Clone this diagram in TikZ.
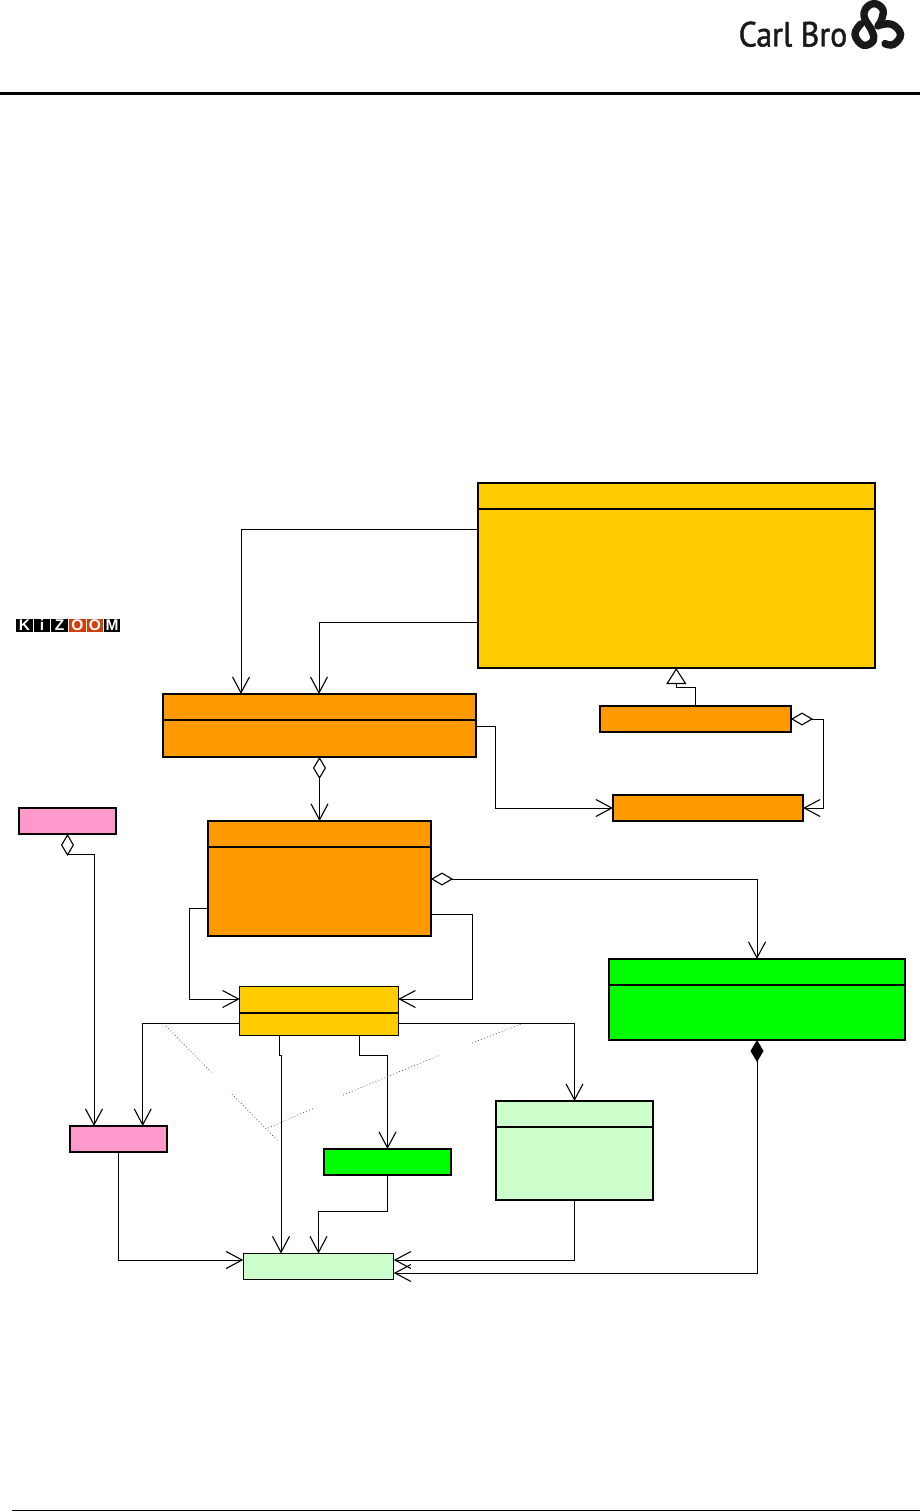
\documentclass[tikz,border=0pt]{standalone}
\usepackage{fontspec}
\setmainfont{Liberation Sans}
\newfontfamily\logofont[FakeStretch=0.91,FakeBold=1.3]{PT Sans}
\usetikzlibrary{arrows.meta,calc}
\definecolor{cbOrange}{HTML}{FF9900}
\definecolor{cbYellow}{HTML}{FFCC00}
\definecolor{cbPink}{HTML}{FF99CC}
\definecolor{cbGreen}{HTML}{00FF00}
\definecolor{cbPale}{HTML}{CCFFCC}
\definecolor{kzRed}{HTML}{D0400F}
\tikzset{
  umlbox/.style={draw=black,line width=1.1pt,rectangle,inner sep=0pt,outer sep=0pt},
  divider/.style={draw=black,line width=1.1pt},
  assoc/.style={draw=black,line width=1pt,-{Straight Barb[length=16pt,width=17pt,line width=1.1pt]}},
  aggr/.style={draw=black,line width=1pt,{Diamond[open,fill=white,length=22pt,width=13pt,line width=1.1pt]}-{Straight Barb[length=16pt,width=17pt,line width=1.1pt]}},
  comp/.style={draw=black,line width=1pt,{Diamond[length=22pt,width=13pt]}-{Straight Barb[length=16pt,width=17pt,line width=1.1pt]}},
  inherit/.style={draw=black,line width=1pt,{Triangle[open,fill=white,length=16pt,width=20pt,line width=1.1pt]}-},
  note/.style={draw=black!70,line width=.7pt,dash pattern=on .8pt off 2.4pt},
  kzcell/.style={rectangle,minimum width=16.5pt,minimum height=13pt,inner sep=0pt,outer sep=0pt,text=white,font=\fontsize{15.5}{15.5}\bfseries\selectfont},
}
\begin{document}
\begin{tikzpicture}[x=1pt,y=-1pt]
\useasboundingbox (0,0) rectangle (920,1512);
% page furniture
\coordinate (ruleL) at (0,93.5);
\coordinate (ruleR) at (920,93.5);
\coordinate (footL) at (12,1510.5);
\coordinate (footR) at (920,1510.5);
\draw[line width=3pt] (ruleL) -- (ruleR);
\draw[line width=1.6pt] (footL) -- (footR);
% Carl Bro logo
\node[anchor=base west,inner sep=0pt,font=\logofont\fontsize{35}{35}\selectfont,text=black!90] (carlbro) at (738.5,46.5) {Carl Bro};
\begin{scope}[shift={(844.4,-1)},x=0.39pt,y=-0.385pt]
\draw[line width=7.4pt,line cap=round,line join=round,black!90] plot[smooth,tension=0.7] coordinates {(42,65) (27,92) (48,120) (74,108) (70,82) (52,50) (54,26) (76,12) (98,26) (96,52) (86,70)};
\draw[line width=7.4pt,line cap=round,black!90] plot[smooth,tension=0.7] coordinates {(90,68) (122,66) (144,92) (126,118) (104,116)};
\end{scope}
% KiZOOM logo
\node[kzcell,fill=black] (kz1) at (24.5,625) {K};
\node[kzcell,fill=black] (kz2) at (42,625) {i};
\node[kzcell,fill=black] (kz3) at (59.5,625) {Z};
\node[kzcell,fill=kzRed] (kz4) at (77.5,625) {O};
\node[kzcell,fill=kzRed] (kz5) at (95,625) {O};
\node[kzcell,fill=black] (kz6) at (112,625) {M};
% boxes
\node[umlbox,fill=cbYellow,minimum width=397pt,minimum height=185pt] (top) at (676.5,575.5) {};
\node[umlbox,fill=cbOrange,minimum width=313pt,minimum height=63pt] (mgr) at (319.5,725.5) {};
\node[umlbox,fill=cbOrange,minimum width=191pt,minimum height=26pt] (impl) at (695.5,719) {};
\node[umlbox,fill=cbOrange,minimum width=190pt,minimum height=26pt] (conn) at (708,808) {};
\node[umlbox,fill=cbOrange,minimum width=223pt,minimum height=115pt] (sess) at (319.5,878.5) {};
\node[umlbox,fill=cbPink,minimum width=97pt,minimum height=26pt] (pinka) at (67.5,821) {};
\node[umlbox,fill=cbPink,minimum width=97pt,minimum height=26pt] (pinkb) at (118.5,1139) {};
\node[umlbox,fill=cbYellow,minimum width=158.5pt,minimum height=49pt] (core) at (319,1011) {};
\node[umlbox,fill=cbGreen,minimum width=296pt,minimum height=81pt] (grn) at (757,999.5) {};
\node[umlbox,fill=cbGreen,minimum width=127pt,minimum height=26pt] (grs) at (387.5,1162) {};
\node[umlbox,fill=cbPale,minimum width=157pt,minimum height=99pt] (pal) at (574.5,1150.5) {};
\node[umlbox,fill=cbPale,minimum width=150.5pt,minimum height=26pt] (base) at (318.5,1266.5) {};
% compartment dividers
\draw[divider] (top.west |- 0,509) -- (top.east |- 0,509);
\draw[divider] (mgr.west |- 0,720) -- (mgr.east |- 0,720);
\draw[divider] (sess.west |- 0,847) -- (sess.east |- 0,847);
\draw[divider] (core.west |- 0,1013) -- (core.east |- 0,1013);
\draw[divider] (grn.west |- 0,985) -- (grn.east |- 0,985);
\draw[divider] (pal.west |- 0,1127) -- (pal.east |- 0,1127);
% connectors
\draw[assoc] (top.west |- 0,529) -| (mgr.north -| 241,0);
\draw[assoc] (top.west |- 0,622) -| (mgr.north -| 319,0);
\draw[inherit] (top.south -| 676.3,0) -- (676.3,687.3) -| (impl.north);
\draw[assoc] (mgr.east |- 0,726) -- (495.5,726) |- (conn.west);
\draw[aggr] (impl.east) -- (823,719) |- (conn.east);
\draw[aggr] (mgr.south) -- (sess.north);
\draw[aggr] (sess.east |- 0,879) -| (grn.north);
\draw[assoc] (sess.west |- 0,908) -- (189,908) |- (core.west |- 0,999);
\draw[assoc] (sess.east |- 0,914) -- (472,914) |- (core.east |- 0,999);
\draw[aggr] (pinka.south) |- (94,854) -- (pinkb.north -| 94,0);
\draw[assoc] (core.west |- 0,1023.5) -| (pinkb.north -| 142.7,0);
\draw[assoc] (core.east |- 0,1023.5) -| (pal.north -| 574.5,0);
\draw[assoc] (core.south -| 279.3,0) -- (279.3,1055) -- (281,1055) -- (base.north -| 281,0);
\draw[assoc] (core.south -| 359,0) -- (359,1055) -| (grs.north);
\draw[assoc] (grs.south) -- (387.5,1211.5) -| (base.north);
\draw[assoc] (pinkb.south) |- (base.west |- 0,1260);
\draw[assoc] (pal.south) |- (base.east |- 0,1260);
\draw[comp] (grn.south) |- (base.east |- 0,1273);
% note lines
\coordinate (na) at (166,1026); \coordinate (nb) at (212,1073);
\coordinate (nc) at (232,1094); \coordinate (nd) at (278,1141);
\coordinate (ne) at (268,1128); \coordinate (nf) at (313,1108.5);
\coordinate (ng) at (343,1095); \coordinate (nh) at (440,1055);
\coordinate (ni) at (472,1043); \coordinate (nj) at (521,1024);
\draw[note] (na) -- (nb);
\draw[note] (nc) -- (nd);
\draw[note] (ne) -- (nf);
\draw[note] (ng) -- (nh);
\draw[note] (ni) -- (nj);
\end{tikzpicture}
\end{document}
